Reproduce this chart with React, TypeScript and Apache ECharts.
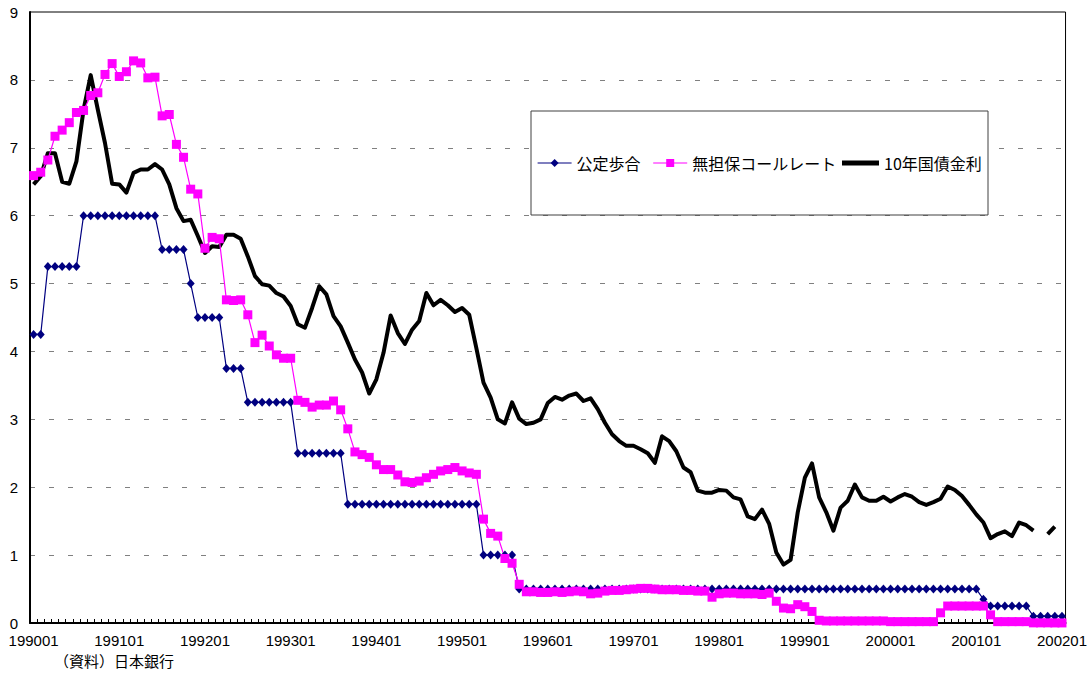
import React, { useEffect, useRef } from "react";
import * as echarts from "echarts";

const FONT = "'Noto Sans CJK JP', 'Noto Sans', sans-serif";
const NUM_FONT = "'Liberation Sans', 'Noto Sans', sans-serif";

const startYear = 1990;
const endYear = 2002;
const categories: string[] = [];
for (let y = startYear; y <= endYear; y++) {
  for (let m = 1; m <= 12; m++) {
    if (y === endYear && m > 1) break;
    categories.push(`${y}${m < 10 ? "0" + m : m}`);
  }
}

const seriesNames = ["公定歩合", "無担保コールレート", "10年国債金利"];

// 公定歩合 (official discount rate), monthly 1990/01 - 2002/01
const discountRate = [
  4.25, 4.25, 5.25, 5.25, 5.25, 5.25, 5.25, 6.0, 6.0, 6.0, 6.0, 6.0,
  6.0, 6.0, 6.0, 6.0, 6.0, 6.0, 5.5, 5.5, 5.5, 5.5, 5.0, 4.5,
  4.5, 4.5, 4.5, 3.75, 3.75, 3.75, 3.25, 3.25, 3.25, 3.25, 3.25, 3.25,
  3.25, 2.5, 2.5, 2.5, 2.5, 2.5, 2.5, 2.5, 1.75, 1.75, 1.75, 1.75,
  1.75, 1.75, 1.75, 1.75, 1.75, 1.75, 1.75, 1.75, 1.75, 1.75, 1.75, 1.75,
  1.75, 1.75, 1.75, 1.0, 1.0, 1.0, 1.0, 1.0, 0.5, 0.5, 0.5, 0.5,
  0.5, 0.5, 0.5, 0.5, 0.5, 0.5, 0.5, 0.5, 0.5, 0.5, 0.5, 0.5,
  0.5, 0.5, 0.5, 0.5, 0.5, 0.5, 0.5, 0.5, 0.5, 0.5, 0.5, 0.5,
  0.5, 0.5, 0.5, 0.5, 0.5, 0.5, 0.5, 0.5, 0.5, 0.5, 0.5, 0.5,
  0.5, 0.5, 0.5, 0.5, 0.5, 0.5, 0.5, 0.5, 0.5, 0.5, 0.5, 0.5,
  0.5, 0.5, 0.5, 0.5, 0.5, 0.5, 0.5, 0.5, 0.5, 0.5, 0.5, 0.5,
  0.5, 0.35, 0.25, 0.25, 0.25, 0.25, 0.25, 0.25, 0.1, 0.1, 0.1, 0.1,
  0.1,
];

// 無担保コールレート (uncollateralized overnight call rate)
const callRate = [
  6.59, 6.64, 6.82, 7.17, 7.26, 7.37, 7.52, 7.55, 7.77, 7.81, 8.08, 8.24,
  8.05, 8.12, 8.28, 8.25, 8.03, 8.04, 7.47, 7.49, 7.05, 6.86, 6.39, 6.32,
  5.52, 5.68, 5.66, 4.76, 4.75, 4.76, 4.54, 4.13, 4.24, 4.08, 3.95, 3.9,
  3.9, 3.28, 3.25, 3.18, 3.21, 3.21, 3.27, 3.14, 2.86, 2.52, 2.48, 2.44,
  2.33, 2.26, 2.26, 2.18, 2.08, 2.07, 2.09, 2.14, 2.19, 2.24, 2.26, 2.29,
  2.24, 2.21, 2.19, 1.53, 1.32, 1.28, 0.95, 0.88, 0.57, 0.46, 0.46, 0.45,
  0.45, 0.46, 0.45, 0.46, 0.47, 0.46, 0.43, 0.44, 0.47, 0.48, 0.48, 0.49,
  0.5, 0.51, 0.51, 0.5, 0.49, 0.49, 0.49, 0.48, 0.48, 0.47, 0.47, 0.38,
  0.43, 0.44, 0.44, 0.43, 0.43, 0.43, 0.42, 0.44, 0.32, 0.22, 0.21, 0.27,
  0.24, 0.17, 0.04, 0.03, 0.03, 0.03, 0.03, 0.03, 0.03, 0.03, 0.03, 0.03,
  0.02, 0.02, 0.02, 0.02, 0.02, 0.02, 0.02, 0.15, 0.25, 0.25, 0.25, 0.25,
  0.25, 0.25, 0.12, 0.02, 0.02, 0.02, 0.02, 0.02, 0.002, 0.002, 0.002, 0.001,
  0.001,
];

// 10年国債金利 (10-year JGB yield)
const jgb10y: (number | null)[] = [
  6.46, 6.58, 6.92, 6.92, 6.5, 6.47, 6.8, 7.56, 8.07, 7.56, 7.07, 6.47,
  6.46, 6.34, 6.63, 6.68, 6.68, 6.76, 6.68, 6.46, 6.11, 5.92, 5.94, 5.7,
  5.45, 5.55, 5.54, 5.72, 5.72, 5.66, 5.4, 5.11, 4.99, 4.97, 4.86, 4.81,
  4.67, 4.4, 4.35, 4.64, 4.96, 4.84, 4.52, 4.37, 4.13, 3.88, 3.69, 3.38,
  3.59, 3.98, 4.53, 4.27, 4.11, 4.32, 4.45, 4.86, 4.68, 4.76, 4.68, 4.58,
  4.64, 4.54, 4.05, 3.54, 3.32, 3.0, 2.94, 3.25, 3.01, 2.93, 2.95, 3.0,
  3.24, 3.33, 3.29, 3.35, 3.38, 3.27, 3.31, 3.15, 2.95, 2.78, 2.68, 2.61,
  2.61, 2.56, 2.5, 2.36, 2.75, 2.68, 2.53, 2.29, 2.22, 1.95, 1.92, 1.92,
  1.96, 1.95, 1.85, 1.82, 1.57, 1.53, 1.67, 1.46, 1.04, 0.86, 0.93, 1.63,
  2.14, 2.35, 1.85, 1.63, 1.36, 1.7, 1.8, 2.04, 1.85, 1.8, 1.8, 1.86,
  1.79, 1.85, 1.9, 1.86, 1.78, 1.74, 1.78, 1.83, 2.01, 1.96, 1.87, 1.74,
  1.6, 1.48, 1.25, 1.31, 1.35, 1.28, 1.48, 1.44, 1.36, null, 1.31, 1.42,
  null,
];

const sourceNote = "（資料）日本銀行";

export default function App() {
  const ref = useRef<HTMLDivElement>(null);

  useEffect(() => {
    if (!ref.current) return;
    const chart = echarts.init(ref.current, undefined, { renderer: "svg" });
    const legendText = { fontSize: 16, color: "#000", fontFamily: FONT };
    const option: any = {
      animation: false,
      backgroundColor: "#ffffff",
      textStyle: { fontFamily: FONT },
      grid: {
        left: 30,
        right: 24,
        top: 12,
        bottom: 54,
        show: true,
        borderColor: "#000",
        borderWidth: 1,
        backgroundColor: "transparent",
      },
      legend: [
        {
          data: [seriesNames[0], seriesNames[1]],
          left: 537,
          top: 155,
          padding: 0,
          itemWidth: 34,
          itemHeight: 10,
          itemGap: 12,
          selectedMode: false,
          lineStyle: { width: 1.2 },
          textStyle: legendText,
        },
        {
          data: [{ name: seriesNames[2], icon: "rect" }],
          left: 842,
          top: 155,
          padding: 0,
          itemWidth: 37,
          itemHeight: 5,
          selectedMode: false,
          itemStyle: { color: "#000" },
          textStyle: legendText,
        },
      ],
      xAxis: {
        type: "category",
        data: categories,
        boundaryGap: true,
        axisLine: { show: true, lineStyle: { color: "#000", width: 2 } },
        axisTick: {
          show: true,
          inside: true,
          length: 4,
          interval: 0,
          lineStyle: { color: "#000", width: 1 },
        },
        axisLabel: {
          interval: 11,
          color: "#000",
          fontSize: 15,
          margin: 10,
          fontFamily: NUM_FONT,
        },
        splitLine: { show: false },
      },
      yAxis: {
        type: "value",
        min: 0,
        max: 9,
        interval: 1,
        axisLine: { show: true, lineStyle: { color: "#000", width: 2 } },
        axisTick: { show: false },
        axisLabel: {
          color: "#000",
          fontSize: 15,
          margin: 12,
          fontFamily: NUM_FONT,
        },
        splitLine: {
          show: true,
          lineStyle: { color: "#808080", type: [5, 14], width: 1 },
        },
      },
      graphic: [
        {
          type: "rect",
          z: 3,
          shape: { x: 531, y: 111, width: 457, height: 104 },
          style: { fill: "#fff", stroke: "#404040", lineWidth: 1 },
        },
        {
          type: "text",
          left: 54,
          top: 653,
          style: {
            text: sourceNote,
            fontSize: 15,
            fill: "#000",
            fontFamily: FONT,
          },
        },
      ],
      series: [
        {
          name: seriesNames[0],
          type: "line",
          data: discountRate,
          symbol: "diamond",
          symbolSize: [8, 9],
          showAllSymbol: true,
          silent: true,
          z: 3,
          lineStyle: { color: "#000080", width: 1.2 },
          itemStyle: { color: "#000080" },
        },
        {
          name: seriesNames[1],
          type: "line",
          data: callRate,
          symbol: "rect",
          symbolSize: 9,
          showAllSymbol: true,
          silent: true,
          z: 3,
          lineStyle: { color: "#ff00ff", width: 1.2 },
          itemStyle: { color: "#ff00ff" },
        },
        {
          name: seriesNames[2],
          type: "line",
          data: jgb10y,
          symbol: "none",
          connectNulls: false,
          silent: true,
          z: 2,
          lineStyle: { color: "#000", width: 4, join: "round" },
          itemStyle: { color: "#000" },
        },
      ],
    };
    chart.setOption(option);
    return () => chart.dispose();
  }, []);

  return (
    <div
      ref={ref}
      style={{ position: "absolute", left: 0, top: 0, width: 1090, height: 677 }}
    />
  );
}
